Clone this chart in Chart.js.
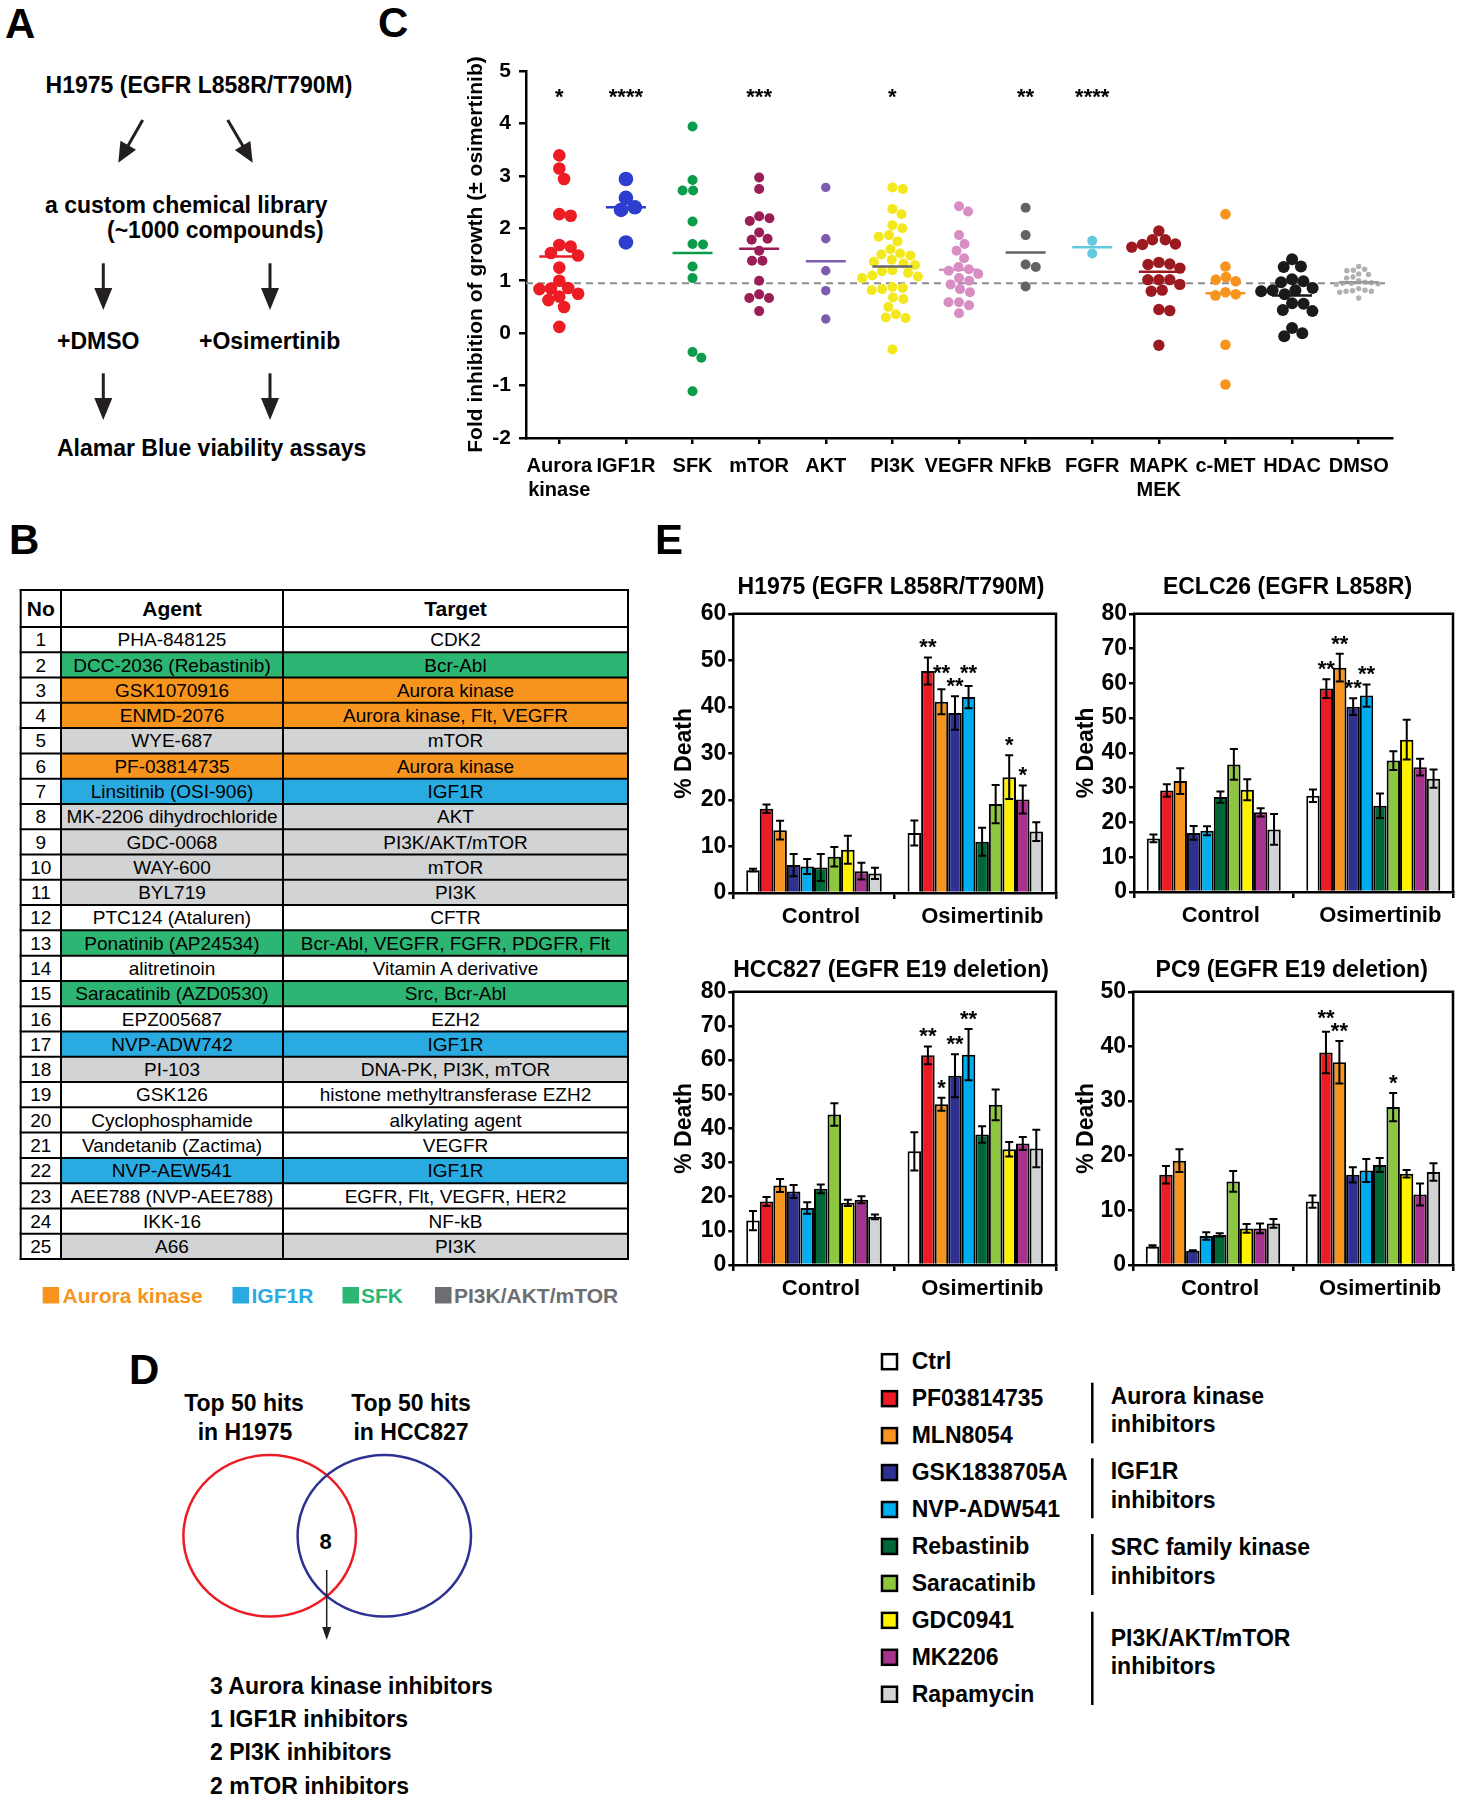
<!DOCTYPE html>
<html><head><meta charset="utf-8">
<script src="https://cdn.jsdelivr.net/npm/chart.js@4.4.0/dist/chart.umd.min.js"></script>
<style>
html,body{margin:0;padding:0;background:#fff;}
body{width:1459px;height:1800px;position:relative;overflow:hidden;font-family:'Liberation Sans',Arial,Helvetica,sans-serif;color:#000;}
.t{position:absolute;white-space:nowrap;line-height:1;}
canvas{position:absolute;}
</style></head><body>
<svg id="ov" width="1459" height="1800" style="position:absolute;left:0;top:0;"></svg>
<canvas id="chartC"></canvas>
<canvas id="chartH1975"></canvas>
<canvas id="chartECLC26"></canvas>
<canvas id="chartHCC827"></canvas>
<canvas id="chartPC9"></canvas>
<script>
// ---------------- DATA ----------------
// Panel C: fold inhibition of growth (± osimertinib), one array per target class
const cCategories = [['Aurora','kinase'],'IGF1R','SFK','mTOR','AKT','PI3K','VEGFR','NFkB','FGFR',['MAPK','MEK'],'c-MET','HDAC','DMSO'];
const cSig = ['*','****','','***','','*','','**','****','','','',''];
const auroraVals = [3.39,3.14,2.94,2.27,2.24,1.68,1.65,1.53,1.48,1.25,1.00,0.86,0.85,0.84,0.75,0.70,0.63,0.50,0.12];
const igf1rVals = [2.94,2.58,2.40,2.35,1.73];
const sfkVals = [3.94,2.92,2.72,2.72,2.13,1.70,1.69,1.27,1.05,-0.36,-0.47,-1.11];
const mtorVals = [2.97,2.75,2.23,2.19,2.14,1.92,1.80,1.78,1.57,1.38,1.38,1.00,0.74,0.67,0.67,0.42];
const aktVals = [2.78,1.80,1.19,0.81,0.27];
const pi3kVals = [2.78,2.75,2.37,2.27,2.06,2.00,1.87,1.84,1.75,1.60,1.52,1.50,1.48,1.40,1.36,1.33,1.30,1.20,1.18,1.15,1.10,1.08,1.05,0.88,0.86,0.84,0.82,0.68,0.65,0.50,0.36,0.30,0.29,-0.31];
const vegfrVals = [2.42,2.32,1.87,1.70,1.57,1.43,1.26,1.22,1.19,1.13,1.05,1.00,0.93,0.84,0.78,0.59,0.59,0.53,0.38];
const nfkbVals = [2.39,1.87,1.31,1.26,0.89];
const fgfrVals = [1.76,1.52];
const mapkVals = [1.95,1.78,1.78,1.70,1.69,1.64,1.35,1.32,1.31,1.24,1.02,1.02,1.02,0.93,0.82,0.80,0.45,0.43,-0.23];
const cmetVals = [2.27,1.27,1.07,1.02,0.99,0.78,0.74,0.72,-0.22,-0.98];
const hdacVals = [1.41,1.27,1.26,1.03,0.99,0.97,0.86,0.82,0.82,0.80,0.74,0.57,0.56,0.44,0.42,0.10,0.00,-0.06];
const dmsoVals = [1.27,1.22,1.20,1.19,1.13,1.12,1.07,1.05,1.00,0.97,0.96,0.95,0.95,0.94,0.93,0.85,0.82,0.81,0.80,0.80,0.78,0.67];
const cMeans = [1.46,2.40,1.53,1.61,1.37,1.27,1.21,1.54,1.64,1.17,0.76,0.72,0.97];
const cReference = 0.95;
const cYTicks = [-2,-1,0,1,2,3,4,5];

// Panel E: % death (mean, SEM) per treatment
const groups = ['Control','Osimertinib'];
const treatments = ['Ctrl','PF03814735','MLN8054','GSK1838705A','NVP-ADW541','Rebastinib','Saracatinib','GDC0941','MK2206','Rapamycin'];
const h1975Control = [4.9,18.1,13.5,6.0,5.7,5.5,7.8,9.3,4.7,4.2];
const h1975ControlSem = [0.3,0.9,2.0,2.4,1.6,2.9,2.1,3.0,1.8,1.2];
const h1975Osi = [12.9,47.7,41.1,38.7,42.1,11.0,19.1,24.9,20.1,13.2];
const h1975OsiSem = [2.7,2.9,2.7,3.6,2.4,3.0,4.1,4.7,3.0,2.0];
const h1975OsiSig = ['','**','**','**','**','','','*','*',''];
const eclc26Control = [15.4,29.2,31.9,17.0,17.6,27.3,36.7,29.4,22.9,18.0];
const eclc26ControlSem = [1.1,1.8,3.7,2.0,1.3,1.6,4.4,3.0,1.2,4.4];
const eclc26Osi = [27.7,58.5,64.5,53.3,56.5,24.8,37.8,43.8,35.9,32.6];
const eclc26OsiSem = [1.8,2.7,4.0,2.4,3.2,3.5,2.7,5.7,2.4,2.6];
const eclc26OsiSig = ['','**','**','**','**','','','','',''];
const hcc827Control = [13.0,18.6,23.3,21.5,16.7,22.3,44.1,18.2,19.1,14.1];
const hcc827ControlSem = [2.8,1.3,1.9,1.9,1.7,1.3,3.3,0.9,1.0,0.7];
const hcc827Osi = [33.3,61.4,47.1,55.4,61.6,38.2,46.9,33.9,35.6,34.1];
const hcc827OsiSem = [5.6,2.6,1.9,6.3,7.5,2.4,4.5,2.1,1.9,5.5];
const hcc827OsiSig = ['','**','*','**','**','','','','',''];
const pc9Control = [3.4,16.5,19.1,2.6,5.3,5.5,15.3,6.7,6.7,7.6];
const pc9ControlSem = [0.2,1.6,2.1,0.1,0.7,0.3,1.9,0.8,0.9,0.8];
const pc9Osi = [11.6,38.9,37.1,16.5,17.3,18.3,28.9,16.7,12.9,17.0];
const pc9OsiSem = [1.1,3.8,3.9,1.4,2.1,1.3,2.6,0.7,2.0,1.6];
const pc9OsiSig = ['','**','**','','','','*','','',''];

// Panel B table
const tableAgents = ['PHA-848125','DCC-2036 (Rebastinib)','GSK1070916','ENMD-2076','WYE-687','PF-03814735','Linsitinib (OSI-906)','MK-2206 dihydrochloride','GDC-0068','WAY-600','BYL719','PTC124 (Ataluren)','Ponatinib (AP24534)','alitretinoin','Saracatinib (AZD0530)','EPZ005687','NVP-ADW742','PI-103','GSK126','Cyclophosphamide','Vandetanib (Zactima)','NVP-AEW541','AEE788 (NVP-AEE788)','IKK-16','A66'];
const tableTargets = ['CDK2','Bcr-Abl','Aurora kinase','Aurora kinase, Flt, VEGFR','mTOR','Aurora kinase','IGF1R','AKT','PI3K/AKT/mTOR','mTOR','PI3K','CFTR','Bcr-Abl, VEGFR, FGFR, PDGFR, Flt','Vitamin A derivative','Src, Bcr-Abl','EZH2','IGF1R','DNA-PK, PI3K, mTOR','histone methyltransferase EZH2','alkylating agent','VEGFR','IGF1R','EGFR, Flt, VEGFR, HER2','NF-kB','PI3K'];
const tableClass = ['','sfk','aurora','aurora','pi3k','aurora','igf1r','pi3k','pi3k','pi3k','pi3k','','sfk','','sfk','','igf1r','pi3k','','','','igf1r','','','pi3k'];
const tableLegend = [['aurora','Aurora kinase'],['igf1r','IGF1R'],['sfk','SFK'],['pi3k','PI3K/AKT/mTOR']];

// ---------------- STYLES ----------------
const FONT = "'Liberation Sans', Arial, Helvetica, sans-serif";
const cColors = ['#ED1C24','#2D3ECF','#0A9B4B','#9B1D55','#7D5BAE','#F3E81E','#D88DC3','#636363','#64C9DF','#9C1A1F','#F7941D','#1A1A1A','#B0B0B0'];
const cMeanColors = ['#ED1C24','#2D3ECF','#0A9B4B','#9B1D55','#7D5BAE','#666666','#D88DC3','#636363','#64C9DF','#9C1A1F','#F7941D','#1A1A1A','#999999'];
const cRadius = [6.3,7.3,5,5,4.7,5,5,5,5,5.7,5.3,6,2.7];
const cSpacing = [11.5,13,10.5,10.5,10,10.5,10.5,10.5,10.5,11,10.5,11.5,6.5];
const treatColors = ['#FFFFFF','#ED1C24','#F7941D','#2E3192','#00AEEF','#006838','#8DC63F','#FFF200','#A8338F','#D1D3D4'];
const tableFill = {aurora:'#F7941D', igf1r:'#29ABE2', sfk:'#2DB573', pi3k:'#D1D3D4'};
const tableLegendText = {aurora:'#F7941D', igf1r:'#29ABE2', sfk:'#2DB573', pi3k:'#6D6E71'};

Chart.defaults.font.family = FONT;
Chart.defaults.font.weight = 'bold';
Chart.defaults.color = '#000';
Chart.defaults.animation = false;

// ---------------- helpers ----------------
function txt(s, x, yc, size, o = {}) {
  const d = document.createElement('div');
  d.className = 't'; d.textContent = s;
  d.style.fontSize = size + 'px';
  d.style.fontWeight = o.w || 'bold';
  d.style.color = o.c || '#000';
  d.style.top = (yc - 0.4885 * size) + 'px';
  d.style.left = x + 'px';
  let tr = '';
  if (o.a === 'center') { tr = 'translateX(-50%)'; d.style.transformOrigin = '50% 50%'; }
  else d.style.transformOrigin = '0 50%';
  if (o.sx) tr += ' scaleX(' + o.sx + ')';
  if (tr) d.style.transform = tr;
  document.body.appendChild(d);
  return d;
}
const svgNS = 'http://www.w3.org/2000/svg';
const ov = document.getElementById('ov');
function sv(tag, attrs) { const e = document.createElementNS(svgNS, tag); for (const k in attrs) e.setAttribute(k, attrs[k]); ov.appendChild(e); return e; }
function arrow(x1, y1, x2, y2, w, hl, hw, color) {
  color = color || '#231F20';
  const dx = x2 - x1, dy = y2 - y1, L = Math.hypot(dx, dy), ux = dx / L, uy = dy / L, nx = -uy, ny = ux;
  const bx = x2 - ux * hl, by = y2 - uy * hl;
  sv('line', {x1, y1, x2: bx + ux, y2: by + uy, stroke: color, 'stroke-width': w});
  sv('polygon', {points: `${x2},${y2} ${bx + nx * hw / 2},${by + ny * hw / 2} ${bx - nx * hw / 2},${by - ny * hw / 2}`, fill: color});
}

// ---------------- panel letters ----------------
txt('A', 5, 23.3, 42); txt('C', 378, 22.5, 42); txt('B', 9, 540, 42); txt('E', 655, 540, 42); txt('D', 129, 1370, 42);

// ---------------- panel A ----------------
txt('H1975 (EGFR L858R/T790M)', 199, 85, 23, {a: 'center'});
arrow(142.7, 120, 118.3, 162.7, 3, 20, 18);
arrow(227.7, 120, 252.7, 162.7, 3, 20, 18);
txt('a custom chemical library', 45, 205, 23);
txt('(~1000 compounds)', 107, 230, 23);
arrow(103.3, 263.3, 103.3, 310, 3, 22, 18);
arrow(270, 263.3, 270, 310, 3, 22, 18);
txt('+DMSO', 57, 341.7, 23);
txt('+Osimertinib', 199, 341.7, 23);
arrow(103.3, 373.3, 103.3, 420, 3, 22, 18);
arrow(270, 373.3, 270, 420, 3, 22, 18);
txt('Alamar Blue viability assays', 57, 448.5, 23);

// ---------------- panel B: table ----------------
(function () {
  const xs = [20.7, 61, 283, 628];
  const hTop = 590, hBot = 627, rh = 25.28;
  tableAgents.forEach((a, r) => {
    const y0 = hBot + r * rh;
    const cls = tableClass[r];
    if (cls) sv('rect', {x: xs[1], y: y0, width: xs[3] - xs[1], height: rh, fill: tableFill[cls]});
  });
  const lw = 2;
  sv('line', {x1: xs[0] - 1, y1: hTop, x2: xs[3] + 1, y2: hTop, stroke: '#000', 'stroke-width': lw});
  for (let r = 0; r <= tableAgents.length; r++) {
    const y = hBot + r * rh;
    sv('line', {x1: xs[0] - 1, y1: y, x2: xs[3] + 1, y2: y, stroke: '#000', 'stroke-width': lw});
  }
  const yEnd = hBot + tableAgents.length * rh;
  xs.forEach(x => sv('line', {x1: x, y1: hTop - 1, x2: x, y2: yEnd + 1, stroke: '#000', 'stroke-width': lw}));
  const cx = [(xs[0] + xs[1]) / 2, (xs[1] + xs[2]) / 2, (xs[2] + xs[3]) / 2];
  const cwid = [xs[1] - xs[0], xs[2] - xs[1], xs[3] - xs[2]];
  ['No', 'Agent', 'Target'].forEach((h, i) => txt(h, cx[i], (hTop + hBot) / 2, 21, {a: 'center'}));
  function fitTxt(s, i, yc) {
    const d = txt(s, cx[i], yc, 19, {a: 'center', w: 'normal'});
    const w = d.offsetWidth;
    if (w > cwid[i] - 6) d.style.transform = 'translateX(-50%) scaleX(' + ((cwid[i] - 6) / w).toFixed(3) + ')';
  }
  tableAgents.forEach((a, r) => {
    const yc = hBot + r * rh + rh / 2;
    fitTxt(String(r + 1), 0, yc);
    fitTxt(a, 1, yc);
    fitTxt(tableTargets[r], 2, yc);
  });
  const lx = [[42.7, 62.5], [232.5, 251.5], [342.5, 361], [435, 454]];
  tableLegend.forEach(([k, s], i) => {
    sv('rect', {x: lx[i][0], y: 1287, width: 16.5, height: 16.5, fill: k === 'pi3k' ? '#6D6E71' : tableFill[k]});
    txt(s, lx[i][1], 1295.5, 21, {c: tableLegendText[k]});
  });
})();

// ---------------- panel D: Venn ----------------
txt('Top 50 hits', 244, 1403, 23, {a: 'center'});
txt('in H1975', 245, 1432.5, 23, {a: 'center'});
txt('Top 50 hits', 411, 1403, 23, {a: 'center'});
txt('in HCC827', 411, 1432.5, 23, {a: 'center'});
sv('ellipse', {cx: 269.7, cy: 1535.8, rx: 86.3, ry: 80.8, fill: 'none', stroke: '#ED1C24', 'stroke-width': 2.5});
sv('ellipse', {cx: 384.3, cy: 1535.8, rx: 86.7, ry: 80.8, fill: 'none', stroke: '#2E3192', 'stroke-width': 2.5});
txt('8', 325.7, 1541.7, 22, {a: 'center'});
arrow(326.7, 1570, 326.7, 1640, 1.5, 13, 9);
txt('3 Aurora kinase inhibitors', 210, 1686, 23);
txt('1 IGF1R inhibitors', 210, 1719, 23);
txt('2 PI3K inhibitors', 210, 1752.5, 23);
txt('2 mTOR inhibitors', 210, 1786, 23);

// ---------------- panel E legend ----------------
treatments.forEach((t, i) => {
  const yc = 1361.7 + i * 36.95;
  sv('rect', {x: 882, y: yc - 7.5, width: 15, height: 15, fill: treatColors[i], stroke: '#000', 'stroke-width': 2.5});
  txt(t, 911.7, yc, 23);
});
[[1382.7, 1443.3], [1458.3, 1518.3], [1534, 1595], [1611.7, 1705]].forEach(([a, b]) =>
  sv('line', {x1: 1092.3, y1: a, x2: 1092.3, y2: b, stroke: '#000', 'stroke-width': 2.5}));
[['Aurora kinase', 1396.7], ['inhibitors', 1424.3], ['IGF1R', 1471.7], ['inhibitors', 1500],
 ['SRC family kinase', 1547.5], ['inhibitors', 1576.7], ['PI3K/AKT/mTOR', 1638.3], ['inhibitors', 1666.7]]
  .forEach(([s, y]) => txt(s, 1110.7, y, 23));

// ---------------- panel C: dot plot ----------------
function swarm(vals, d, pxX, pxY) {
  const order = vals.map((v, i) => i).sort((a, b) => vals[b] - vals[a]);
  const placed = [], out = new Array(vals.length);
  for (const i of order) {
    const y = vals[i] * pxY;
    const cands = [0];
    for (const p of placed) {
      const dy = Math.abs(p.y - y);
      if (dy < d) { const dx = Math.sqrt(d * d - dy * dy); cands.push(p.x + dx, p.x - dx); }
    }
    cands.sort((a, b) => Math.abs(a) - Math.abs(b) || b - a);
    let best = 0;
    for (const c of cands) {
      if (placed.every(p => (p.x - c) ** 2 + (p.y - y) ** 2 >= d * d - 1e-6)) { best = c; break; }
    }
    placed.push({x: best, y});
    out[i] = best / pxX;
  }
  return out;
}
(function () {
  const A = {l: 526, t: 71, r: 1392, b: 438};
  const cGroups = [auroraVals, igf1rVals, sfkVals, mtorVals, aktVals, pi3kVals, vegfrVals, nfkbVals, fgfrVals, mapkVals, cmetVals, hdacVals, dmsoVals];
  const pxX = (A.r - A.l) / cCategories.length, pxY = (A.b - A.t) / (cYTicks[cYTicks.length - 1] - cYTicks[0]);
  const titleFs = 21, scaleLeft = 476 - titleFs * 1.2 / 2;
  const cl = 450, ct = 40, cb = 522;
  const cv = document.getElementById('chartC');
  cv.width = A.r + 18 - cl; cv.height = cb - ct;
  cv.style.left = cl + 'px'; cv.style.top = ct + 'px';
  const datasets = [];
  datasets.push({data: [{x: -0.5, y: cReference}, {x: 12.45, y: cReference}], showLine: true, pointRadius: 0,
    borderColor: '#8C8C8C', borderWidth: 2, borderDash: [7, 5], order: 3});
  cGroups.forEach((vals, i) => {
    const offs = swarm(vals, cSpacing[i], pxX, pxY);
    datasets.push({data: vals.map((v, k) => ({x: i + offs[k], y: v})), pointRadius: cRadius[i],
      pointBackgroundColor: cColors[i], pointBorderWidth: 0, showLine: false, order: 2});
  });
  cMeans.forEach((m, i) => datasets.push({data: [{x: i - 0.3, y: m}, {x: i + 0.3, y: m}], showLine: true,
    pointRadius: 0, borderColor: cMeanColors[i], borderWidth: 2.5, order: 1}));
  const sigPluginC = {id: 'sigC', afterDatasetsDraw(chart) {
    const ctx = chart.ctx, xs = chart.scales.x, top = chart.chartArea.top;
    ctx.save(); ctx.font = 'bold 22px ' + FONT; ctx.fillStyle = '#000'; ctx.textAlign = 'center'; ctx.textBaseline = 'alphabetic';
    cSig.forEach((s, i) => { if (s) ctx.fillText(s, xs.getPixelForValue(i), top + 20 + 0.585 * 22); });
    ctx.restore();
  }};
  new Chart(cv, {type: 'scatter', data: {datasets}, options: {
    responsive: false, events: [],
    layout: {autoPadding: false, padding: {left: scaleLeft - cl, top: A.t - ct, right: 18, bottom: 0}},
    plugins: {legend: {display: false}, tooltip: {enabled: false}},
    scales: {
      x: {type: 'linear', min: -0.5, max: cCategories.length - 0.5,
        afterBuildTicks(s) { s.ticks = cCategories.map((c, i) => ({value: i})); },
        ticks: {callback: v => cCategories[Math.round(v)], font: {size: 20, weight: 'bold'}, padding: 10, maxRotation: 0, autoSkip: false},
        grid: {drawOnChartArea: false, tickLength: 6, color: '#000', lineWidth: 2.5},
        border: {color: '#000', width: 2.5},
        afterFit(s) { s.height = cb - A.b; }},
      y: {min: cYTicks[0], max: cYTicks[cYTicks.length - 1],
        afterBuildTicks(s) { s.ticks = cYTicks.map(v => ({value: v})); },
        ticks: {font: {size: 21, weight: 'bold'}, padding: 8},
        grid: {drawOnChartArea: false, tickLength: 7, color: '#000', lineWidth: 2.5},
        border: {color: '#000', width: 2.5},
        title: {display: true, text: 'Fold inhibition of growth (± osimertinib)', font: {size: titleFs, weight: 'bold'}, padding: 0},
        afterFit(s) { s.width = A.l - scaleLeft; }}
    }
  }, plugins: [sigPluginC]});
})();

// ---------------- panel E: bar charts ----------------
const errPlugin = {id: 'err', afterDatasetsDraw(chart) {
  const ctx = chart.ctx, y = chart.scales.y;
  ctx.save(); ctx.strokeStyle = '#000'; ctx.lineWidth = 2;
  chart.data.datasets.forEach((ds, i) => {
    const meta = chart.getDatasetMeta(i);
    meta.data.forEach((el, j) => {
      const v = ds.data[j], e = ds.err[j];
      const y1 = y.getPixelForValue(v + e), y2 = y.getPixelForValue(Math.max(0, v - e));
      ctx.beginPath();
      ctx.moveTo(el.x, y1); ctx.lineTo(el.x, y2);
      ctx.moveTo(el.x - 4, y1); ctx.lineTo(el.x + 4, y1);
      ctx.moveTo(el.x - 4, y2); ctx.lineTo(el.x + 4, y2);
      ctx.stroke();
    });
  });
  ctx.restore();
}};
const sigPluginE = {id: 'sigE', afterDatasetsDraw(chart) {
  const ctx = chart.ctx, y = chart.scales.y, items = [];
  chart.data.datasets.forEach((ds, i) => {
    const meta = chart.getDatasetMeta(i);
    ds.sig.forEach((s, j) => {
      if (!s) return;
      items.push({s, x: meta.data[j].x, want: y.getPixelForValue(ds.data[j] + ds.err[j]) - 16});
    });
  });
  items.sort((a, b) => b.want - a.want);
  const placed = [];
  for (const it of items) {
    let yy = it.want, moved = true;
    while (moved) {
      moved = false;
      for (const p of placed) {
        if (Math.abs(p.x - it.x) < 17 && Math.abs(p.y - yy) < 13 && yy > p.y - 13) { yy = p.y - 13; moved = true; }
      }
    }
    it.y = yy; placed.push(it);
  }
  ctx.save(); ctx.font = 'bold 22px ' + FONT; ctx.fillStyle = '#000'; ctx.textAlign = 'center'; ctx.textBaseline = 'alphabetic';
  placed.forEach(it => ctx.fillText(it.s, it.x, it.y + 0.585 * 22));
  ctx.restore();
}};
const framePlugin = {id: 'frame', afterDraw(chart) {
  const {left, top, right, bottom} = chart.chartArea, ctx = chart.ctx;
  ctx.save(); ctx.strokeStyle = '#000'; ctx.lineWidth = 2.5;
  ctx.beginPath(); ctx.moveTo(left - 1, top); ctx.lineTo(right, top); ctx.lineTo(right, bottom + 1); ctx.stroke();
  ctx.restore();
}};
function barChart(id, A, titleCx, ymax, ctrl, ctrlSem, osi, osiSem, osiSig) {
  const fs = 23, scaleLeft = titleCx - fs * 1.2 / 2;
  const cl = Math.floor(scaleLeft) - 4, ct = A.t - 14, xh = 44;
  const cv = document.getElementById(id);
  cv.width = A.r + 4 - cl; cv.height = A.b + xh - ct;
  cv.style.left = cl + 'px'; cv.style.top = ct + 'px';
  const datasets = treatments.map((name, i) => ({label: name, data: [ctrl[i], osi[i]], err: [ctrlSem[i], osiSem[i]],
    sig: ['', osiSig[i]], backgroundColor: treatColors[i], borderColor: '#000', borderWidth: 2,
    categoryPercentage: 0.84, barPercentage: 1}));
  new Chart(cv, {type: 'bar', data: {labels: groups, datasets}, options: {
    responsive: false, events: [],
    layout: {autoPadding: false, padding: {left: scaleLeft - cl, top: A.t - ct, right: 4, bottom: 0}},
    plugins: {legend: {display: false}, tooltip: {enabled: false}},
    scales: {
      x: {grid: {drawOnChartArea: false, tickLength: 6, color: '#000', lineWidth: 2.5, offset: true},
        border: {color: '#000', width: 2.5},
        ticks: {font: {size: 22, weight: 'bold'}, padding: 5, maxRotation: 0, labelOffset: 7},
        afterFit(s) { s.height = xh; }},
      y: {min: 0, max: ymax, ticks: {stepSize: 10, font: {size: 23, weight: 'bold'}, padding: 2},
        grid: {drawOnChartArea: false, tickLength: 5, color: '#000', lineWidth: 2.5},
        border: {color: '#000', width: 2.5},
        title: {display: true, text: '% Death', font: {size: fs, weight: 'bold'}, padding: 0},
        afterFit(s) { s.width = A.l - scaleLeft; }}
    }
  }, plugins: [errPlugin, sigPluginE, framePlugin]});
}
txt('H1975 (EGFR L858R/T790M)', 891, 586.5, 23, {a: 'center'});
txt('ECLC26 (EGFR L858R)', 1287.5, 586.5, 23, {a: 'center'});
txt('HCC827 (EGFR E19 deletion)', 891, 968.8, 23, {a: 'center'});
txt('PC9 (EGFR E19 deletion)', 1291.7, 969.5, 23, {a: 'center'});
barChart('chartH1975', {l: 733.3, t: 612, r: 1056, b: 893.5}, 685, 60, h1975Control, h1975ControlSem, h1975Osi, h1975OsiSem, h1975OsiSig);
barChart('chartECLC26', {l: 1134, t: 612, r: 1453, b: 892.5}, 1086.5, 80, eclc26Control, eclc26ControlSem, eclc26Osi, eclc26OsiSem, eclc26OsiSig);
barChart('chartHCC827', {l: 733.3, t: 990, r: 1056, b: 1265.5}, 685, 80, hcc827Control, hcc827ControlSem, hcc827Osi, hcc827OsiSem, hcc827OsiSig);
barChart('chartPC9', {l: 1133, t: 989.5, r: 1453, b: 1264.5}, 1086.5, 50, pc9Control, pc9ControlSem, pc9Osi, pc9OsiSem, pc9OsiSig);
</script>
</body></html>
